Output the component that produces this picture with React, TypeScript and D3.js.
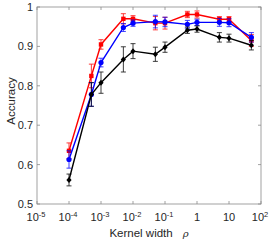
import React from "react";
import * as d3 from "d3";

const kernelWidths = [1e-4, 5e-4, 1e-3, 5e-3, 1e-2, 5e-2, 1e-1, 0.5, 1, 5, 10, 50];
const redMean = [0.635, 0.825, 0.905, 0.970, 0.970, 0.959, 0.959, 0.981, 0.981, 0.969, 0.969, 0.915];
const redErr = [0.02, 0.03, 0.012, 0.013, 0.008, 0.017, 0.015, 0.008, 0.009, 0.007, 0.007, 0.015];
const blueMean = [0.613, 0.778, 0.859, 0.948, 0.959, 0.963, 0.962, 0.956, 0.961, 0.961, 0.960, 0.923];
const blueErr = [0.022, 0.03, 0.011, 0.01, 0.008, 0.016, 0.012, 0.01, 0.008, 0.01, 0.01, 0.012];
const blackMean = [0.561, 0.778, 0.808, 0.867, 0.888, 0.880, 0.898, 0.941, 0.944, 0.923, 0.921, 0.903];
const blackErr = [0.015, 0.03, 0.027, 0.032, 0.019, 0.018, 0.013, 0.008, 0.008, 0.012, 0.01, 0.012];

const xTickExps = [-5, -4, -3, -2, -1, 0, 1, 2];
const yTicks = [0.5, 0.6, 0.7, 0.8, 0.9, 1];

const series = [
  { name: "red", color: "#ff0000", mean: redMean, err: redErr, marker: "square" },
  { name: "blue", color: "#0000ff", mean: blueMean, err: blueErr, marker: "circle" },
  { name: "black", color: "#000000", mean: blackMean, err: blackErr, marker: "diamond" },
];

export default function App() {
  const W = 273, H = 245;
  const L = 37, R = 261, T = 7, B = 204;
  const x = d3.scaleLog().domain([1e-5, 1e2]).range([L, R]);
  const y = d3.scaleLinear().domain([0.5, 1]).range([B, T]);
  const line = d3.line<number>().x((_, i) => x(kernelWidths[i])).y((d) => y(d));
  const axisColor = "#8a8a8a";
  const textColor = "#262626";
  const font = "Liberation Sans, Arial, sans-serif";
  const tl = 3;

  return (
    <svg width={W} height={H} style={{ position: "absolute", left: 0, top: 0 }} fontFamily={font}>
      <rect x={0} y={0} width={W} height={H} fill="#fff" />
      <rect x={L} y={T} width={R - L} height={B - T} fill="none" stroke={axisColor} strokeWidth={0.8} />
      {xTickExps.map((e) => {
        const px = x(Math.pow(10, e));
        return (
          <g key={"xt" + e}>
            <line x1={px} x2={px} y1={B} y2={B - tl} stroke={axisColor} strokeWidth={0.8} />
            <line x1={px} x2={px} y1={T} y2={T + tl} stroke={axisColor} strokeWidth={0.8} />
            {e === 0 ? (
              <text x={px} y={221} textAnchor="middle" fontSize={11} fill={textColor}>1</text>
            ) : e === 1 ? (
              <text x={px} y={221} textAnchor="middle" fontSize={11} fill={textColor}>10</text>
            ) : (
              <text x={px - 1} y={221} textAnchor="middle" fontSize={11} fill={textColor}>
                10
                <tspan dy={-4} fontSize={7.5}>{e}</tspan>
              </text>
            )}
          </g>
        );
      })}
      {yTicks.map((v) => {
        const py = y(v);
        return (
          <g key={"yt" + v}>
            <line x1={L} x2={L + tl} y1={py} y2={py} stroke={axisColor} strokeWidth={0.8} />
            <line x1={R} x2={R - tl} y1={py} y2={py} stroke={axisColor} strokeWidth={0.8} />
            <text x={33} y={py + 4} textAnchor="end" fontSize={11} fill={textColor}>
              {v === 1 ? "1" : v.toFixed(1)}
            </text>
          </g>
        );
      })}
      <text x={149} y={237} textAnchor="middle" fontSize={11.5} fill={textColor}>
        Kernel width
        <tspan dx={10} fontStyle="italic" fontFamily="DejaVu Serif, serif" fontSize={10}>ρ</tspan>
      </text>
      <text transform={`translate(14.5,101) rotate(-90)`} textAnchor="middle" fontSize={11.5} fill={textColor}>
        Accuracy
      </text>
      {series.map((s) => (
        <g key={s.name}>
          <path d={line(s.mean) || ""} fill="none" stroke={s.color} strokeWidth={1.4} />
          {s.mean.map((m, i) => {
            const px = x(kernelWidths[i]);
            const y1 = y(m - s.err[i]);
            const y2 = y(m + s.err[i]);
            return (
              <g key={i} stroke={s.color} strokeWidth={0.9} opacity={0.85}>
                <line x1={px} x2={px} y1={y1} y2={y2} />
                <line x1={px - 2.5} x2={px + 2.5} y1={y1} y2={y1} />
                <line x1={px - 2.5} x2={px + 2.5} y1={y2} y2={y2} />
              </g>
            );
          })}
          {s.mean.map((m, i) => {
            const px = x(kernelWidths[i]);
            const py = y(m);
            if (s.marker === "square")
              return <rect key={"m" + i} x={px - 2.2} y={py - 2.2} width={4.4} height={4.4} fill={s.color} />;
            if (s.marker === "circle")
              return <circle key={"m" + i} cx={px} cy={py} r={2.6} fill={s.color} />;
            return (
              <path
                key={"m" + i}
                d={`M${px},${py - 3}L${px + 2.6},${py}L${px},${py + 3}L${px - 2.6},${py}Z`}
                fill={s.color}
              />
            );
          })}
        </g>
      ))}
    </svg>
  );
}
